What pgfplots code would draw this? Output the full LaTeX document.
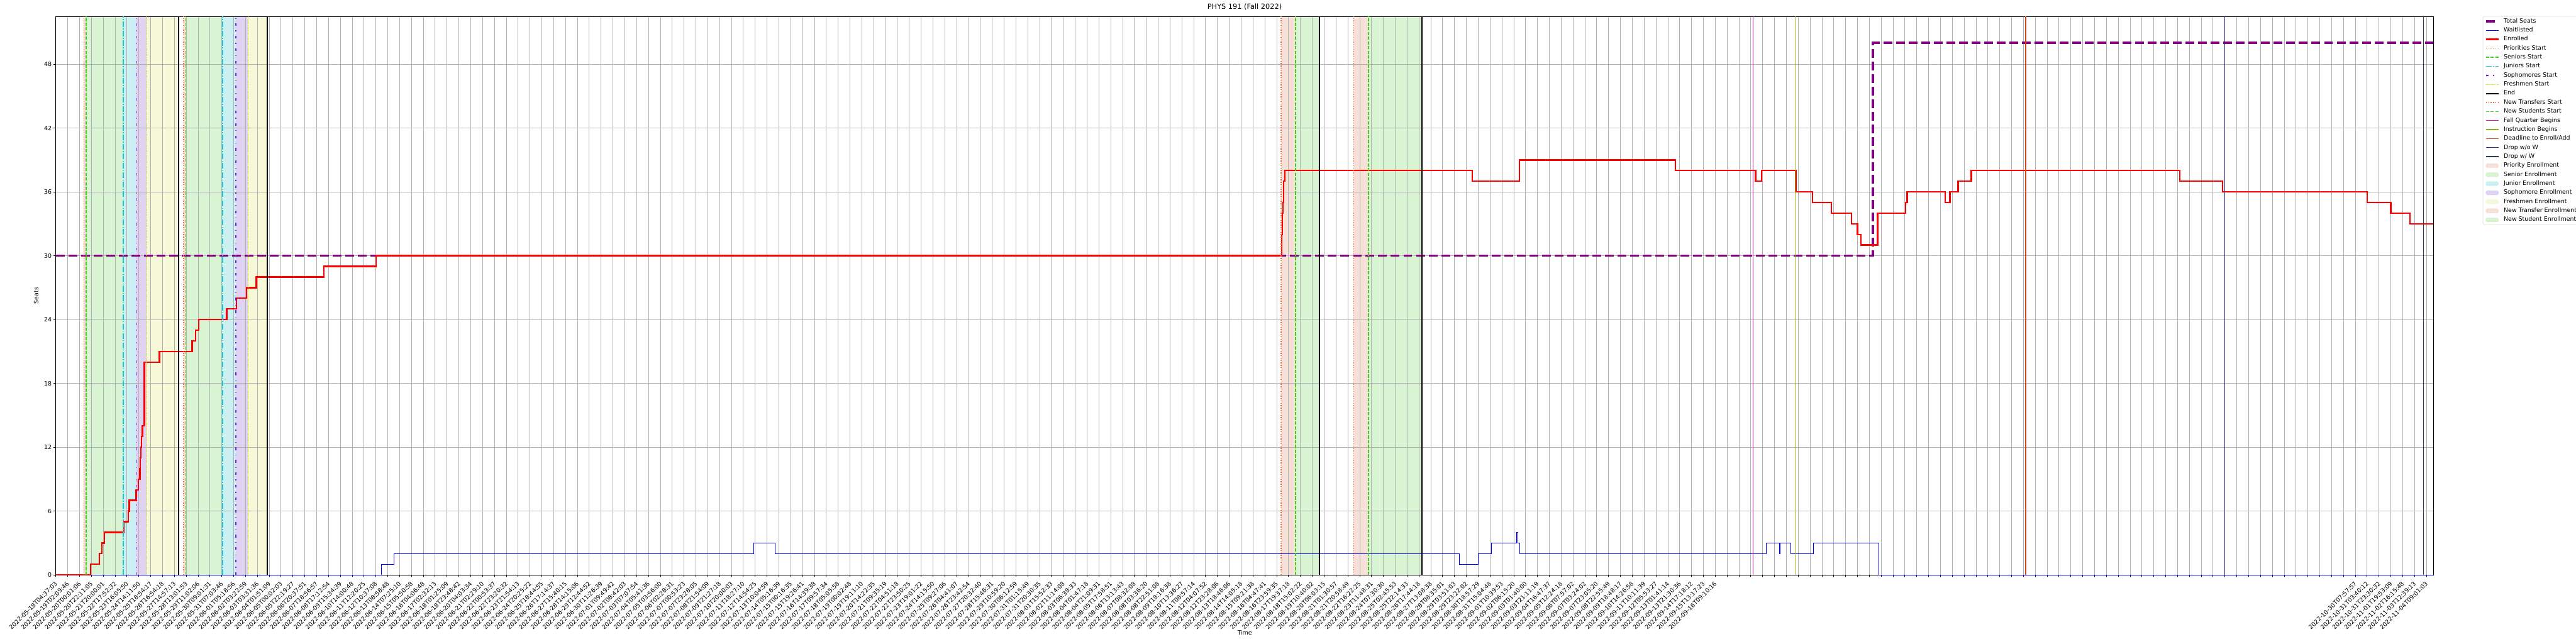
\documentclass[border=0pt]{standalone}
\usepackage{fontspec}
\setmainfont{DejaVu Sans}
\usepackage{pgfplots}
\pgfplotsset{compat=1.18}
\definecolor{gridgray}{HTML}{B0B0B0}
\definecolor{seatpurple}{HTML}{800080}
\definecolor{prioc}{HTML}{F26B38}
\definecolor{senc}{HTML}{40CC20}
\definecolor{junc}{HTML}{10C8D8}
\definecolor{sophc}{HTML}{6A22D8}
\definecolor{freshc}{HTML}{E0E030}
\definecolor{fallc}{HTML}{E0149E}
\definecolor{instc}{HTML}{8CB416}
\definecolor{deadc}{HTML}{D2451E}
\definecolor{dropoc}{HTML}{2E2A8C}
\definecolor{dropwc}{HTML}{2F3B5E}
\definecolor{sprio}{HTML}{F6E0D8}
\definecolor{ssen}{HTML}{D9F4D2}
\definecolor{sjun}{HTML}{CCF0F2}
\definecolor{ssoph}{HTML}{DFD2F2}
\definecolor{sfresh}{HTML}{F6F8D8}
\pgfplotsset{
  myarea/.style={legend image code/.code={\draw[##1] (0pt,-3.5pt) rectangle (21pt,3.5pt);}},
  vl/.style={forget plot, line width=1.5pt},
  pstart/.style={prioc, line width=1.5pt, dash pattern=on 1.5pt off 2.5pt},
  sstart/.style={senc, line width=1.5pt, dash pattern=on 5.5pt off 2.4pt},
  jstart/.style={junc, line width=1.5pt, dash pattern=on 9.6pt off 2.4pt on 1.5pt off 2.4pt},
  sostart/.style={sophc, line width=1.5pt, dash pattern=on 4.5pt off 7.5pt on 1.5pt off 7.5pt},
  fstart/.style={freshc, line width=1.5pt, dash pattern=on 4.5pt off 1.5pt on 1.5pt off 1.5pt},
  endl/.style={black, line width=2pt},
  span/.style={forget plot, draw=none, on layer=axis background},
}
\begin{document}
\begin{tikzpicture}
\begin{axis}[
  at={(93.95pt,116.35pt)}, anchor=south west,
  scale only axis, width=4002.3pt, height=940.2pt,
  xmin=0, xmax=200.6, ymin=0, ymax=52.5,
  set layers,
  axis line style={black, line width=0.8pt},
  tick align=outside, tick pos=left,
  major tick length=3.5pt,
  every tick/.style={black, line width=0.8pt},
  grid=major,
  grid style={gridgray, line width=0.8pt},
  ytick={0,6,...,48},
  /pgf/number format/assume math mode=true,
  yticklabel style={font=\fontsize{10}{12}\selectfont, anchor=east, inner sep=0pt, xshift=-3.4pt},
  xtick={0,...,200},
  xticklabels={2022-05-18T04:37:03,2022-05-19T02:09:46,2022-05-20T00:01:06,2022-05-20T22:11:05,2022-05-21T20:00:01,2022-05-22T17:52:32,2022-05-23T16:05:50,2022-05-24T14:11:50,2022-05-25T18:54:17,2022-05-26T16:54:18,2022-05-27T14:57:13,2022-05-28T13:01:53,2022-05-29T11:02:06,2022-05-30T09:01:31,2022-05-31T07:03:46,2022-06-01T05:18:56,2022-06-02T03:22:59,2022-06-03T03:31:36,2022-06-04T01:51:09,2022-06-05T00:02:03,2022-06-05T22:19:27,2022-06-06T20:37:51,2022-06-07T18:56:57,2022-06-08T17:12:54,2022-06-09T15:34:39,2022-06-10T14:00:48,2022-06-11T12:20:25,2022-06-12T10:37:08,2022-06-13T08:58:48,2022-06-14T07:25:10,2022-06-15T05:50:58,2022-06-16T04:06:48,2022-06-17T02:32:13,2022-06-18T01:25:09,2022-06-18T23:48:42,2022-06-20T04:03:34,2022-06-21T02:29:10,2022-06-22T00:53:37,2022-06-22T23:20:32,2022-06-23T21:54:13,2022-06-24T20:25:22,2022-06-25T18:44:55,2022-06-26T17:14:37,2022-06-27T15:40:15,2022-06-28T14:15:06,2022-06-29T12:44:52,2022-06-30T11:26:39,2022-07-01T09:49:42,2022-07-02T08:42:03,2022-07-03T07:07:54,2022-07-04T05:41:36,2022-07-05T03:56:00,2022-07-06T02:28:31,2022-07-07T00:53:23,2022-07-07T23:28:05,2022-07-08T21:54:09,2022-07-09T21:27:18,2022-07-10T20:00:03,2022-07-11T18:27:10,2022-07-12T14:54:25,2022-07-13T10:04:59,2022-07-14T05:16:39,2022-07-15T00:16:35,2022-07-15T19:26:41,2022-07-16T14:39:38,2022-07-17T09:57:34,2022-07-18T05:05:58,2022-07-19T00:02:48,2022-07-19T19:11:10,2022-07-20T14:22:35,2022-07-21T09:35:19,2022-07-22T04:51:18,2022-07-22T23:50:25,2022-07-23T19:01:22,2022-07-24T14:15:50,2022-07-25T09:27:06,2022-07-26T04:41:07,2022-07-26T23:42:54,2022-07-27T20:32:40,2022-07-28T15:46:31,2022-07-29T10:59:20,2022-07-30T06:12:59,2022-07-31T01:15:49,2022-07-31T20:30:35,2022-08-01T15:52:33,2022-08-02T11:14:08,2022-08-03T06:38:33,2022-08-04T01:47:18,2022-08-04T21:09:31,2022-08-05T17:58:51,2022-08-06T13:13:43,2022-08-07T08:32:08,2022-08-08T03:36:20,2022-08-08T22:51:08,2022-08-09T18:16:38,2022-08-10T13:36:27,2022-08-11T08:57:14,2022-08-12T04:07:52,2022-08-12T23:28:06,2022-08-13T18:46:06,2022-08-14T14:05:18,2022-08-15T09:21:38,2022-08-16T04:47:41,2022-08-16T23:59:35,2022-08-17T19:37:18,2022-08-18T15:02:22,2022-08-19T10:40:02,2022-08-20T06:03:15,2022-08-21T01:30:57,2022-08-21T20:58:49,2022-08-22T16:22:25,2022-08-23T11:48:31,2022-08-24T07:30:30,2022-08-25T02:45:53,2022-08-25T22:14:33,2022-08-26T17:44:18,2022-08-27T13:08:38,2022-08-28T08:35:01,2022-08-29T03:51:03,2022-08-29T23:22:02,2022-08-30T18:57:29,2022-08-31T15:04:48,2022-09-01T10:39:53,2022-09-02T06:15:20,2022-09-03T01:40:00,2022-09-03T21:11:19,2022-09-04T16:47:37,2022-09-05T12:24:18,2022-09-06T07:57:02,2022-09-07T03:24:02,2022-09-07T23:05:20,2022-09-08T22:55:49,2022-09-09T18:48:17,2022-09-10T14:26:58,2022-09-11T10:11:39,2022-09-12T05:53:27,2022-09-13T01:41:14,2022-09-13T21:30:36,2022-09-14T17:18:12,2022-09-15T13:17:23,2022-09-16T09:10:16,,,,,,,,,,,,,,,,,,,,,,,,,,,,,,,,,,,,,,,,,,,,,,,,,,,,,,2022-10-30T07:57:57,2022-10-31T03:40:12,2022-10-31T23:30:32,2022-11-01T19:53:09,2022-11-02T16:15:48,2022-11-03T12:39:13,2022-11-04T09:01:03,2022-11-05T05:12:37},
  xticklabel style={font=\fontsize{10}{12}\selectfont, xshift=-2.2pt, yshift=-6.5pt, rotate=45, anchor=north east, inner sep=0pt},
  title={PHYS 191 (Fall 2022)},
  title style={font=\fontsize{12}{14}\selectfont, at={(axis description cs:0.5,1)}, anchor=base, yshift=6.5pt, inner sep=0pt},
  xlabel={Time},
  xlabel style={font=\fontsize{10}{12}\selectfont, at={(axis description cs:0.5,-0.103)}, anchor=center},
  ylabel={Seats},
  ylabel style={font=\fontsize{10}{12}\selectfont, at={(axis description cs:-0.0083,0.5)}, anchor=center},
  legend style={at={(axis description cs:1.02077,1.0)}, anchor=north west,
    font=\fontsize{10}{12}\selectfont, draw=black!20, rounded corners=2pt,
    fill=white, inner xsep=3pt, inner ysep=3pt,
    nodes={inner sep=0pt, text height=7.5pt, text depth=2.5pt},
    row sep=5.2pt, column sep=7pt},
  legend cell align=left,
  legend image code/.code={\draw[#1] (0pt,0pt) -- (21pt,0pt);},
]
\addlegendimage{seatpurple, line width=4pt, dash pattern=on 14.8pt off 6.4pt}
\addlegendentry{Total Seats}
\addlegendimage{blue, line width=1pt}
\addlegendentry{Waitlisted}
\addlegendimage{red, line width=2.5pt}
\addlegendentry{Enrolled}
\addlegendimage{pstart}
\addlegendentry{Priorities Start}
\addlegendimage{sstart}
\addlegendentry{Seniors Start}
\addlegendimage{jstart}
\addlegendentry{Juniors Start}
\addlegendimage{sostart}
\addlegendentry{Sophomores Start}
\addlegendimage{fstart}
\addlegendentry{Freshmen Start}
\addlegendimage{endl}
\addlegendentry{End}
\addlegendimage{pstart}
\addlegendentry{New Transfers Start}
\addlegendimage{sstart}
\addlegendentry{New Students Start}
\addlegendimage{fallc, line width=1.5pt}
\addlegendentry{Fall Quarter Begins}
\addlegendimage{instc, line width=1.5pt}
\addlegendentry{Instruction Begins}
\addlegendimage{deadc, line width=1.5pt}
\addlegendentry{Deadline to Enroll/Add}
\addlegendimage{dropoc, line width=1.5pt}
\addlegendentry{Drop w/o W}
\addlegendimage{dropwc, line width=1.5pt}
\addlegendentry{Drop w/ W}
\addlegendimage{myarea, fill=sprio, draw=prioc!25}
\addlegendentry{Priority Enrollment}
\addlegendimage{myarea, fill=ssen, draw=senc!25}
\addlegendentry{Senior Enrollment}
\addlegendimage{myarea, fill=sjun, draw=junc!25}
\addlegendentry{Junior Enrollment}
\addlegendimage{myarea, fill=ssoph, draw=sophc!25}
\addlegendentry{Sophomore Enrollment}
\addlegendimage{myarea, fill=sfresh, draw=freshc!25}
\addlegendentry{Freshmen Enrollment}
\addlegendimage{myarea, fill=sprio, draw=prioc!25}
\addlegendentry{New Transfer Enrollment}
\addlegendimage{myarea, fill=ssen, draw=senc!25}
\addlegendentry{New Student Enrollment}
% spans
\addplot[span, fill=sprio] coordinates {(2.37,52.5) (2.56,52.5)} \closedcycle;
\addplot[span, fill=ssen] coordinates {(2.56,52.5) (5.69,52.5)} \closedcycle;
\addplot[span, fill=sjun] coordinates {(5.69,52.5) (6.77,52.5)} \closedcycle;
\addplot[span, fill=ssoph] coordinates {(6.77,52.5) (7.68,52.5)} \closedcycle;
\addplot[span, fill=sfresh] coordinates {(7.68,52.5) (10.36,52.5)} \closedcycle;
\addplot[span, fill=sprio] coordinates {(10.78,52.5) (10.97,52.5)} \closedcycle;
\addplot[span, fill=ssen] coordinates {(10.97,52.5) (14.08,52.5)} \closedcycle;
\addplot[span, fill=sjun] coordinates {(14.08,52.5) (15.18,52.5)} \closedcycle;
\addplot[span, fill=ssoph] coordinates {(15.18,52.5) (16.21,52.5)} \closedcycle;
\addplot[span, fill=sfresh] coordinates {(16.21,52.5) (17.84,52.5)} \closedcycle;
\addplot[span, fill=sprio] coordinates {(103.37,52.5) (104.6,52.5)} \closedcycle;
\addplot[span, fill=ssen] coordinates {(104.6,52.5) (106.6,52.5)} \closedcycle;
\addplot[span, fill=sprio] coordinates {(109.5,52.5) (110.76,52.5)} \closedcycle;
\addplot[span, fill=ssen] coordinates {(110.76,52.5) (115.25,52.5)} \closedcycle;
% series
\addplot[forget plot, seatpurple, line width=4pt, dash pattern=on 14.8pt off 6.4pt, const plot] coordinates {(0,30) (153.3,50) (200.6,50)};
\addplot[forget plot, blue, line width=1pt, const plot] coordinates {(0,0) (27.45,1) (28.55,2) (58.9,3) (60.7,2) (118.4,1) (120.0,2) (121.1,3) (123.25,4) (123.35,3) (123.5,2) (144.3,3) (145.4,2) (145.5,3) (146.4,2) (148.3,3) (153.8,0) (200.6,0)};
\addplot[forget plot, red, line width=2.5pt, const plot] coordinates {(0,0) (2.93,1) (3.68,2) (3.88,3) (4.11,4) (5.75,5) (6.12,6) (6.19,7) (6.78,8) (6.95,9) (7.09,10) (7.14,11) (7.19,12) (7.24,13) (7.3,14) (7.47,20) (8.74,21) (11.51,22) (11.78,23) (12.06,24) (14.42,25) (15.25,26) (16.08,27) (16.91,28) (22.6,29) (27.03,30) (103.42,32) (103.47,34) (103.52,35) (103.6,37) (103.7,38) (119.5,37) (123.5,39) (136.65,38) (143.4,37) (143.9,38) (146.8,36) (148.2,35) (149.8,34) (151.5,33) (152.0,32) (152.3,31) (153.7,34) (156.05,35) (156.2,36) (159.4,35) (159.8,36) (160.5,37) (161.6,38) (179.2,37) (182.8,36) (195.0,35) (197.0,34) (198.6,33) (200.6,33)};
% vertical lines
\addplot[vl, pstart] coordinates {(2.37,0) (2.37,52.5)};
\addplot[vl, pstart] coordinates {(10.78,0) (10.78,52.5)};
\addplot[vl, sstart] coordinates {(2.56,0) (2.56,52.5)};
\addplot[vl, sstart] coordinates {(10.97,0) (10.97,52.5)};
\addplot[vl, jstart] coordinates {(5.69,0) (5.69,52.5)};
\addplot[vl, jstart] coordinates {(14.08,0) (14.08,52.5)};
\addplot[vl, sostart] coordinates {(6.77,0) (6.77,52.5)};
\addplot[vl, sostart] coordinates {(15.18,0) (15.18,52.5)};
\addplot[vl, fstart] coordinates {(7.68,0) (7.68,52.5)};
\addplot[vl, fstart] coordinates {(16.21,0) (16.21,52.5)};
\addplot[vl, endl] coordinates {(10.36,0) (10.36,52.5)};
\addplot[vl, endl] coordinates {(17.84,0) (17.84,52.5)};
\addplot[vl, endl] coordinates {(106.6,0) (106.6,52.5)};
\addplot[vl, endl] coordinates {(115.25,0) (115.25,52.5)};
\addplot[vl, pstart] coordinates {(103.37,0) (103.37,52.5)};
\addplot[vl, pstart] coordinates {(109.5,0) (109.5,52.5)};
\addplot[vl, sstart] coordinates {(104.6,0) (104.6,52.5)};
\addplot[vl, sstart] coordinates {(110.76,0) (110.76,52.5)};
\addplot[vl, fallc] coordinates {(143.2,0) (143.2,52.5)};
\addplot[vl, instc] coordinates {(146.8,0) (146.8,52.5)};
\addplot[vl, deadc] coordinates {(166.2,0) (166.2,52.5)};
\addplot[vl, dropoc] coordinates {(183.0,0) (183.0,52.5)};
\addplot[vl, dropwc] coordinates {(199.75,0) (199.75,52.5)};
\end{axis}
\pgfresetboundingbox
\useasboundingbox (0,0) rectangle (4336.2pt,1084.05pt);
\end{tikzpicture}
\end{document}
